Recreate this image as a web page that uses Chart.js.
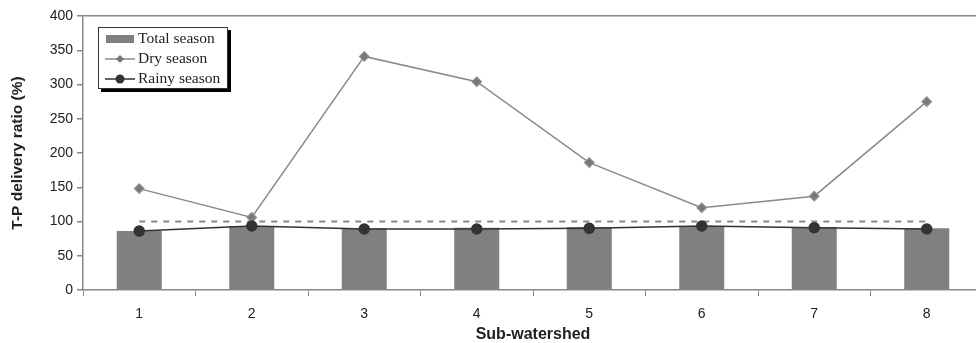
<!DOCTYPE html>
<html>
<head>
<meta charset="utf-8">
<script src="https://cdn.jsdelivr.net/npm/chart.js@4"></script>
<style>
  html, body { margin: 0; padding: 0; background: #fff; overflow: hidden; }
  #wrap { position: relative; width: 976px; height: 343px; overflow: hidden; }
  #legend {
    position: absolute; left: 98px; top: 27px; width: 128px; height: 60px;
    border: 1px solid #333; background: #fff;
    box-shadow: 3px 3px 0 #000;
    font-family: "Liberation Serif", "Times New Roman", serif; font-size: 15.5px; color: #222;
  }
  #legend div { position: absolute; left: 6px; height: 20px; line-height: 20px; white-space: nowrap; }
  #legend svg { vertical-align: middle; margin-right: 3px; }
</style>
</head>
<body>
<div id="wrap">
  <canvas id="chart" width="976" height="343"></canvas>
  <div id="legend"></div>
</div>
<script>
const categories = ["1", "2", "3", "4", "5", "6", "7", "8"];
const totalSeason = [86, 93, 90, 91, 92, 93, 92, 90];
const drySeason = [148, 106, 341, 304, 186, 120, 137, 275];
const rainySeason = [86, 93.5, 89, 89, 90, 93.5, 91, 89];
const refLine = [100, 100, 100, 100, 100, 100, 100, 100];
const yTicks = [0, 50, 100, 150, 200, 250, 300, 350, 400];

const sansFont = '"Liberation Sans", Arial, sans-serif';

// the original plot area runs a few pixels past the right edge of the picture
const plotRight = 983;
const stretchRight = {
  id: "stretchRight",
  afterLayout(chart) {
    const extra = plotRight - chart.chartArea.right;
    if (extra <= 0) return;
    const x = chart.scales.x;
    chart.chartArea.right += extra;
    chart.chartArea.width += extra;
    x.right += extra;
    x.width += extra;
    x.configure();
  },
};

new Chart(document.getElementById("chart").getContext("2d"), {
  type: "bar",
  data: {
    labels: categories,
    datasets: [
      {
        type: "line",
        label: "Rainy season",
        data: rainySeason,
        borderColor: "#333",
        backgroundColor: "#333",
        borderWidth: 1.5,
        pointStyle: "circle",
        pointRadius: 5,
        order: 0,
      },
      {
        type: "line",
        label: "Dry season",
        data: drySeason,
        borderColor: "#8a8a8a",
        backgroundColor: "#777",
        borderWidth: 1.5,
        pointStyle: "rectRot",
        pointRadius: 4.5,
        order: 1,
      },
      {
        type: "line",
        label: "ref",
        data: refLine,
        borderColor: "#888",
        borderWidth: 2,
        borderDash: [6, 6],
        pointRadius: 0,
        order: 2,
      },
      {
        label: "Total season",
        data: totalSeason,
        backgroundColor: "#808080",
        categoryPercentage: 1,
        barPercentage: 0.4,
        order: 3,
      },
    ],
  },
  options: {
    responsive: false,
    animation: false,
    layout: { padding: { top: 16, right: 0, left: 0, bottom: 0 } },
    plugins: { legend: { display: false }, tooltip: { enabled: false } },
    scales: {
      x: {
        grid: { drawOnChartArea: false, tickColor: "#888", tickLength: 6, offset: true },
        border: { color: "#888", width: 1.5 },
        ticks: { color: "#222", font: { family: sansFont, size: 14 }, padding: 10 },
        title: {
          display: true,
          text: "Sub-watershed",
          color: "#222",
          font: { family: sansFont, size: 16, weight: "bold" },
          padding: { top: 0, bottom: -1 },
        },
        afterFit: (scale) => { scale.height = 53; },
      },
      y: {
        min: 0,
        max: 400,
        afterBuildTicks: (scale) => { scale.ticks = yTicks.map((v) => ({ value: v })); },
        grid: {
          color: (ctx) => (ctx.tick && ctx.tick.value === 400 ? "#888" : "rgba(0,0,0,0)"),
          tickColor: "#888",
          tickLength: 6,
          lineWidth: 1.5,
        },
        border: { color: "#888", width: 1.5 },
        ticks: { color: "#222", font: { family: sansFont, size: 14 }, padding: 4 },
        title: {
          display: true,
          text: "T-P delivery ratio (%)",
          color: "#222",
          font: { family: sansFont, size: 15.5, weight: "bold" },
          padding: { top: 8, bottom: 6 },
        },
        afterFit: (scale) => { scale.width = 83; },
      },
    },
  },
  plugins: [stretchRight],
});

// legend box drawn as html over the chart
const legendItems = [
  { label: "Total season", svg: '<svg width="30" height="12"><rect x="1" y="2" width="28" height="8" fill="#808080"/></svg>' },
  { label: "Dry season", svg: '<svg width="30" height="12"><line x1="0" y1="6" x2="30" y2="6" stroke="#8a8a8a" stroke-width="1.5"/><path d="M15 2 L19 6 L15 10 L11 6 Z" fill="#777"/></svg>' },
  { label: "Rainy season", svg: '<svg width="30" height="12"><line x1="0" y1="6" x2="30" y2="6" stroke="#333" stroke-width="1.5"/><circle cx="15" cy="6" r="4.5" fill="#333"/></svg>' },
];
const legend = document.getElementById("legend");
legendItems.forEach((item, i) => {
  const row = document.createElement("div");
  row.style.top = (0 + i * 20) + "px";
  row.innerHTML = item.svg + item.label;
  legend.appendChild(row);
});
</script>
</body>
</html>
